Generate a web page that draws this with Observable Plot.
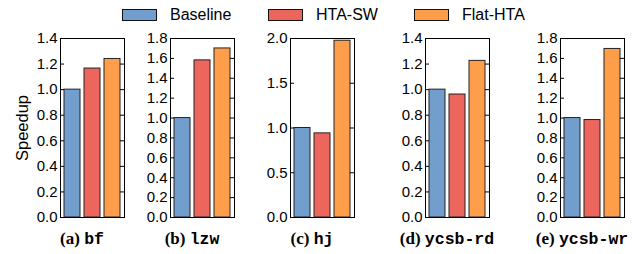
<!DOCTYPE html>
<html>
<head>
<meta charset="utf-8">
<script src="https://cdn.jsdelivr.net/npm/d3@7"></script>
<script src="https://cdn.jsdelivr.net/npm/@observablehq/plot@0.6"></script>
<style>
  html, body { margin: 0; padding: 0; background: #fff; }
  #chart { position: relative; width: 636px; height: 254px; font-family: "Liberation Sans", Arial, sans-serif; color: #000; overflow: hidden; }
  .panel { position: absolute; }
  .legend { position: absolute; top: 6px; left: 0; width: 636px; height: 18px; }
  .lg-item { position: absolute; top: 0; display: flex; align-items: center; font-size: 16px; white-space: nowrap; }
  .sw { width: 33px; height: 10px; border: 1.5px solid #111; margin-right: 13px; }
  .ylabel { position: absolute; left: 22px; top: 128px; transform: translate(-50%, -50%) rotate(-90deg); font-size: 16.5px; white-space: nowrap; }
  .cap { position: absolute; top: 229px; transform: translateX(-50%); white-space: nowrap; font-size: 17px; }
  .cap .l { font-family: "Liberation Serif", "DejaVu Serif", serif; font-weight: bold; }
  .cap .m { font-family: "Liberation Mono", "DejaVu Sans Mono", monospace; font-weight: bold; font-size: 16.5px; }
</style>
</head>
<body>
<div id="chart"></div>
<script>
// ---- data ----
const benchmarks = ["bf", "lzw", "hj", "ycsb-rd", "ycsb-wr"];
const captionLetters = ["(a)", "(b)", "(c)", "(d)", "(e)"];
const series = ["Baseline", "HTA-SW", "Flat-HTA"];
const baseline = [1.0, 1.0, 1.0, 1.0, 1.0];
const htaSw = [1.165, 1.58, 0.94, 0.962, 0.98];
const flatHta = [1.24, 1.70, 1.975, 1.225, 1.695];
const yMax = [1.4, 1.8, 2.0, 1.4, 1.8];
const yTicks = [
  [0.0, 0.2, 0.4, 0.6, 0.8, 1.0, 1.2, 1.4],
  [0.0, 0.2, 0.4, 0.6, 0.8, 1.0, 1.2, 1.4, 1.6, 1.8],
  [0.0, 0.5, 1.0, 1.5, 2.0],
  [0.0, 0.2, 0.4, 0.6, 0.8, 1.0, 1.2, 1.4],
  [0.0, 0.2, 0.4, 0.6, 0.8, 1.0, 1.2, 1.4, 1.6, 1.8]
];
const colors = ["#729ECE", "#ED665D", "#FF9E4A"];
const yLabel = "Speedup";

// ---- layout ----
const frameLefts = [60, 170, 290, 425, 560];
const frameW = 64, frameTop = 38, frameBottom = 217;
const mL = 45, mR = 5, mT = 10, mB = 5;
const capShift = -10;

const chart = document.getElementById("chart");

// legend
const legend = document.createElement("div");
legend.className = "legend";
const legendX = [122, 268, 414];
series.forEach((s, j) => {
  const it = document.createElement("div");
  it.className = "lg-item";
  it.style.left = legendX[j] + "px";
  const sw = document.createElement("div");
  sw.className = "sw";
  sw.style.background = colors[j];
  it.appendChild(sw);
  it.appendChild(document.createTextNode(s));
  legend.appendChild(it);
});
chart.appendChild(legend);

// y label
const yl = document.createElement("div");
yl.className = "ylabel";
yl.textContent = yLabel;
chart.appendChild(yl);

const vals = [baseline, htaSw, flatHta];
benchmarks.forEach((b, i) => {
  const data = series.map((s, j) => ({series: s, value: vals[j][i]}));
  const plot = Plot.plot({
    width: mL + frameW + mR,
    height: mT + (frameBottom - frameTop) + mB,
    marginLeft: mL, marginRight: mR, marginTop: mT, marginBottom: mB,
    x: {domain: series, axis: null, paddingInner: 0.21, paddingOuter: 0.2},
    y: {domain: [0, yMax[i]], axis: null},
    color: {domain: series, range: colors},
    style: {fontFamily: "Liberation Sans, Arial, sans-serif", fontSize: "15px", color: "#000", background: "transparent", overflow: "visible"},
    marks: [
      Plot.barY(data, {x: "series", y: "value", fill: "series", stroke: "#222", strokeWidth: 1}),
      Plot.ruleY(yTicks[i], {stroke: "#000", insetRight: frameW - 4}),
      Plot.ruleY(yTicks[i], {stroke: "#000", insetLeft: frameW - 4}),
      Plot.axisY({ticks: yTicks[i], tickSize: 0, tickPadding: 3, tickFormat: d3.format(".1f"), label: null, fontSize: 15}),
      Plot.frame({stroke: "#000", strokeWidth: 1})
    ]
  });
  const wrap = document.createElement("div");
  wrap.className = "panel";
  wrap.style.left = (frameLefts[i] - mL) + "px";
  wrap.style.top = (frameTop - mT) + "px";
  wrap.appendChild(plot);
  chart.appendChild(wrap);

  const cap = document.createElement("div");
  cap.className = "cap";
  cap.style.left = (frameLefts[i] + frameW / 2 + capShift) + "px";
  const l = document.createElement("span");
  l.className = "l";
  l.textContent = captionLetters[i] + " ";
  const m = document.createElement("span");
  m.className = "m";
  m.textContent = b;
  cap.appendChild(l);
  cap.appendChild(m);
  chart.appendChild(cap);
});
</script>
</body>
</html>
